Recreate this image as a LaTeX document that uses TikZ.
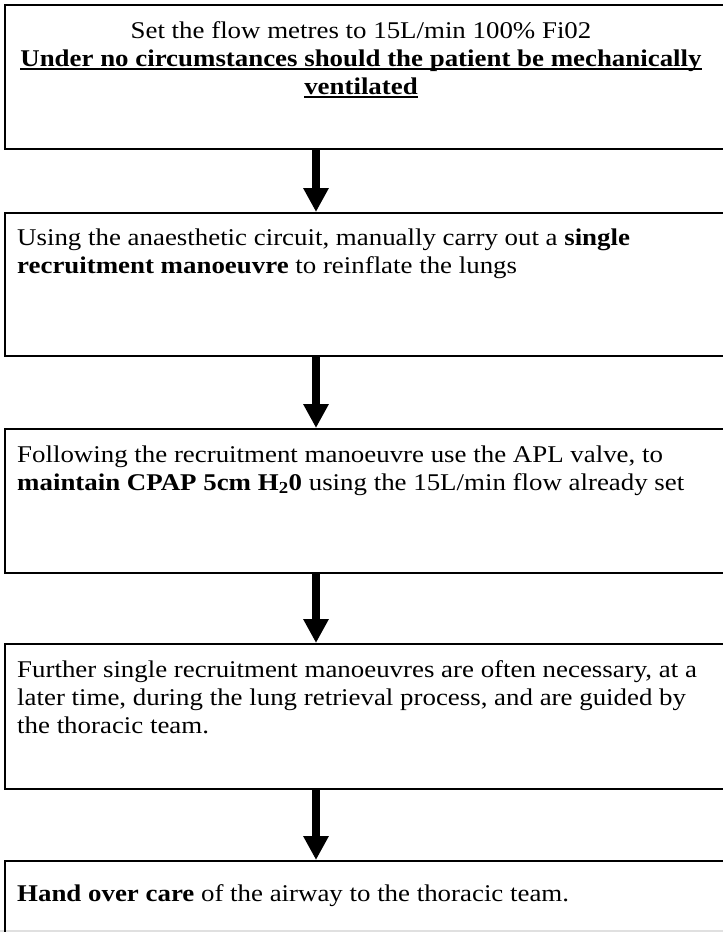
\documentclass[tikz,border=0pt]{standalone}
\usepackage{fontspec}
\setmainfont{Liberation Serif}[FakeStretch=1.12]
\usetikzlibrary{arrows.meta}
\newcommand\ulline[1]{\setbox0\hbox{#1}\rlap{\rule[-3.6pt]{\wd0}{1.6pt}}\box0}
\tikzset{
  x=1pt, y=-1pt,
  box/.style={draw=black, line width=2pt, rectangle, minimum width=760pt, anchor=north west, inner sep=0pt},
  txt/.style={anchor=north west, inner sep=0pt, align=left, font=\fontsize{24}{28}\selectfont},
  flow/.style={line width=8pt, -{Triangle[width=24pt,length=24pt]}},
}
\begin{document}
\begin{tikzpicture}
\useasboundingbox (0,0) rectangle (723,932);
\fill[white] (0,0) rectangle (723,932);
\fill[black!12] (0,930) rectangle (723,932);
% boxes
\node[box, minimum height=144pt] (b1) at (4,4) {};
\node[box, minimum height=143pt] (b2) at (4,212) {};
\node[box, minimum height=144pt] (b3) at (4,428) {};
\node[box, minimum height=145pt] (b4) at (4,643) {};
\node[box, minimum height=100pt] (b5) at (4,860) {};
% texts
\node[txt, anchor=north, align=center] (t1) at (361,21) {\rule{0pt}{17pt}Set the flow metres to 15L/min 100\% Fi02\\
  \textbf{\ulline{Under no circumstances should the patient be mechanically}}\\
  \textbf{\ulline{ventilated}}};
\node[txt] (t2) at (17,228) {\rule{0pt}{17pt}Using the anaesthetic circuit, manually carry out a \textbf{single}\\
  \textbf{recruitment manoeuvre} to reinflate the lungs};
\node[txt] (t3) at (17,445) {\rule{0pt}{17pt}Following the recruitment manoeuvre use the APL valve, to\\
  \textbf{maintain CPAP 5cm H\textsubscript{2}0} using the 15L/min flow already set};
\node[txt] (t4) at (17,660) {\rule{0pt}{17pt}Further single recruitment manoeuvres are often necessary, at a\\
  later time, during the lung retrieval process, and are guided by\\
  the thoracic team.};
\node[txt] (t5) at (17,884) {\rule{0pt}{17pt}\textbf{Hand over care} of the airway to the thoracic team.};
% arrows
\coordinate (ax) at (316,0);
\draw[flow] (b1.south -| ax) -- (b2.north -| ax);
\draw[flow] (b2.south -| ax) -- (b3.north -| ax);
\draw[flow] (b3.south -| ax) -- (b4.north -| ax);
\draw[flow] (b4.south -| ax) -- (b5.north -| ax);
\end{tikzpicture}
\end{document}
